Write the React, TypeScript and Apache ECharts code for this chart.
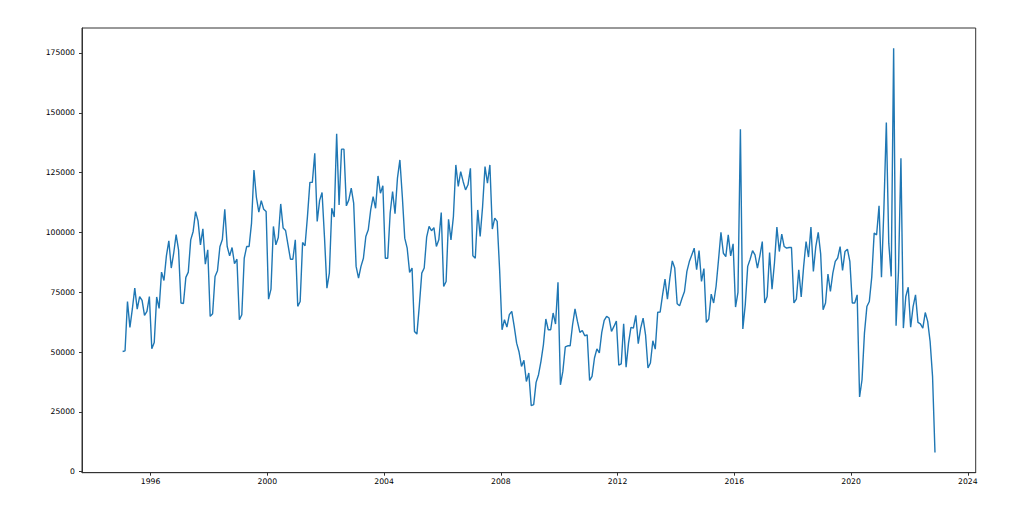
import React, { useEffect, useRef } from "react";
import * as echarts from "echarts";

// Monthly series, Jan 1995 .. Nov 2022
const startYear = 1995;
const values: number[] = [
  // 1995
  50200, 50500, 71100, 60300, 68000, 76700, 67900, 73200, 71600, 65300, 67000, 73200,
  // 1996
  51400, 54000, 73000, 68200, 83400, 79900, 90200, 96500, 85100, 91300, 99100, 92700,
  // 1997
  70500, 70300, 81200, 83400, 96900, 100400, 108700, 104800, 94800, 101500, 86700, 92700,
  // 1998
  64900, 66000, 81600, 84000, 94000, 97000, 109700, 94100, 90200, 93700, 86900, 88800,
  // 1999
  63500, 65600, 89200, 94100, 94100, 103900, 126100, 114700, 108500, 113300, 109700, 108700,
  // 2000
  72100, 76300, 102500, 94800, 97900, 111900, 101800, 100800, 94800, 88800, 88800, 96900,
  // 2001
  69100, 71100, 95800, 94400, 106700, 120900, 120900, 133100, 104600, 113400, 116700, 98000,
  // 2002
  76700, 83000, 110100, 106400, 141200, 111500, 134800, 134800, 111100, 113600, 118500, 112200,
  // 2003
  85800, 80900, 85800, 89200, 98300, 101100, 109400, 115000, 110100, 123600, 116400, 119500,
  // 2004
  89200, 89200, 108100, 117100, 107800, 122700, 130300, 115000, 97600, 93400, 83300, 85100,
  // 2005
  58600, 57500, 69500, 83000, 85100, 98000, 102500, 100700, 102000, 94100, 96900, 108300,
  // 2006
  77400, 79500, 105500, 96900, 106600, 128200, 119200, 125400, 121300, 117800, 119900, 126800,
  // 2007
  90200, 89200, 109400, 98300, 110800, 127500, 120600, 128200, 101400, 106000, 104600, 84400,
  // 2008
  59300, 63500, 60400, 65600, 67000, 60700, 53700, 50000, 44000, 46500, 37700, 41200,
  // 2009
  27600, 28000, 37300, 40500, 46100, 53000, 63800, 59300, 59300, 66300, 61700, 79200,
  // 2010
  36300, 41900, 52100, 52600, 52600, 61400, 68000, 62800, 58200, 59000, 56800, 57200,
  // 2011
  38100, 39800, 47500, 51300, 49600, 58200, 63200, 64900, 64200, 58600, 60700, 63000,
  // 2012
  44500, 45000, 61800, 43700, 53700, 60300, 60000, 65300, 53500, 60000, 64200, 57200,
  // 2013
  43300, 45400, 54700, 51200, 66600, 66700, 73900, 80500, 72100, 80900, 88100, 85100,
  // 2014
  70200, 69300, 72500, 75300, 83700, 87800, 90600, 93400, 84400, 92400, 79500, 84900,
  // 2015
  62400, 63800, 74200, 70500, 77500, 88500, 100000, 91300, 89900, 99000, 90200, 95200,
  // 2016
  68800, 74900, 143100, 59600, 69800, 85800, 88800, 92400, 90600, 85100, 90200, 96200,
  // 2017
  70500, 73200, 91600, 76300, 87200, 102200, 92000, 99300, 94100, 93400, 93700, 93700,
  // 2018
  70500, 72100, 84400, 73000, 85800, 96200, 89700, 102200, 83700, 94100, 100000, 91000,
  // 2019
  67700, 70500, 82600, 75300, 83000, 87900, 89300, 94100, 84100, 92000, 93000, 87900,
  // 2020
  70500, 70500, 73900, 31200, 38400, 57900, 69000, 71100, 81300, 99700, 99000, 111100,
  // 2021
  81300, 110000, 145900, 95500, 81600, 177000, 61000, 84000, 131000, 60000, 73200, 77100,
  // 2022
  60400, 69000, 73900, 62400, 61800, 60000, 66500, 62800, 54400, 39800, 8000,
];

const xTicks = [1996, 2000, 2004, 2008, 2012, 2016, 2020, 2024];
const yTicks = [0, 25000, 50000, 75000, 100000, 125000, 150000, 175000];

export default function App() {
  const ref = useRef<HTMLDivElement>(null);

  useEffect(() => {
    if (!ref.current) return;
    const chart = echarts.init(ref.current, undefined, { renderer: "svg" });
    const data = values.map((v, i) => [startYear + (i + 0.5) / 12, v]);
    const font = "DejaVu Sans";
    const axisColor = "#333";
    chart.setOption({
      animation: false,
      backgroundColor: "#ffffff",
      grid: {
        left: 82,
        right: 47.3,
        top: 28,
        bottom: 34.3,
        show: true,
        borderColor: axisColor,
        borderWidth: 1,
        backgroundColor: "transparent",
      },
      xAxis: {
        type: "value",
        min: 1993.65,
        max: 2024.27,
        axisLine: { show: true, onZero: false, lineStyle: { color: axisColor, width: 1 } },
        axisTick: {
          show: true,
          length: 3,
          customValues: xTicks,
          lineStyle: { color: axisColor, width: 1 },
        },
        axisLabel: {
          show: true,
          customValues: xTicks,
          margin: 5,
          fontFamily: font,
          fontSize: 7.7,
          color: "#000",
          formatter: (v: number) => String(v),
        },
        splitLine: { show: false },
      },
      yAxis: {
        type: "value",
        min: -450,
        max: 185450,
        axisLine: { show: true, onZero: false, lineStyle: { color: axisColor, width: 1 } },
        axisTick: {
          show: true,
          length: 3,
          customValues: yTicks,
          lineStyle: { color: axisColor, width: 1 },
        },
        axisLabel: {
          show: true,
          customValues: yTicks,
          margin: 7,
          fontFamily: font,
          fontSize: 7.7,
          color: "#000",
          formatter: (v: number) => String(v),
        },
        splitLine: { show: false },
      },
      series: [
        {
          type: "line",
          data,
          showSymbol: false,
          symbol: "none",
          lineStyle: { color: "#1f77b4", width: 1.4 },
          itemStyle: { color: "#1f77b4" },
        },
      ],
    });
    return () => chart.dispose();
  }, []);

  return (
    <div
      ref={ref}
      style={{ position: "fixed", left: 0, top: 0, width: 1023, height: 507, background: "#fff" }}
    />
  );
}
